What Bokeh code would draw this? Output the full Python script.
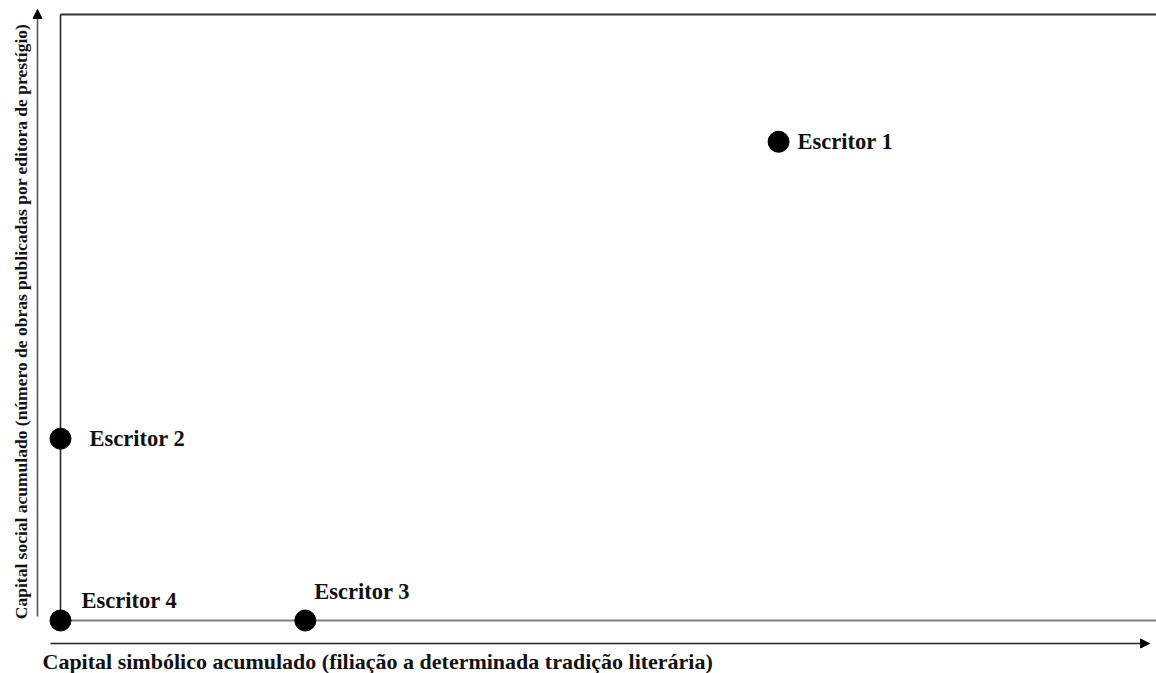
from bokeh.plotting import figure
from bokeh.models import Range1d, ColumnDataSource, Arrow, NormalHead, Label
from bokeh.core.properties import value
from bokeh.embed import file_html
from bokeh.resources import INLINE
import math

# ---- data ----
names = ["Escritor 1", "Escritor 2", "Escritor 3", "Escritor 4"]
capital_simbolico = [6.6, 0.0, 2.25, 0.0]
capital_social = [7.9, 3.0, 0.0, 0.0]
x_title = "Capital simbólico acumulado (filiação a determinada tradição literária)"
y_title = "Capital social acumulado (número de obras publicadas por editora de prestígio)"

# ---- layout (styles / positions) ----
label_dx = [19, 29, 9, 21]
label_dy = [0, 0, -29, -20]

W, H = 1156, 673
# box: data 0..10 on both axes; pixel scale
SX = 108.8   # px per unit x
SY = 60.6    # px per unit y

def dx(img_x):
    return (img_x - 60) / SX

def dy(img_y):
    return (620 - img_y) / SY

FONT = "Liberation Serif"

p = figure(width=W, height=H, x_range=Range1d(dx(0), dx(W)), y_range=Range1d(dy(H), dy(0)),
           output_backend="svg", toolbar_location=None, min_border=0,
           x_axis_location=None, y_axis_location=None)
p.grid.visible = False
p.outline_line_color = None
p.background_fill_color = "white"
p.border_fill_color = "white"

# box lines
p.line([0, 0], [dy(626), 10], line_color="#2a2a2a", line_width=1.6)
p.line([0, 10.3], [10, 10], line_color="#333333", line_width=2)
p.line([0, 10.3], [0, 0], line_color="#808080", line_width=2)

# arrows (axes)
p.add_layout(Arrow(end=NormalHead(size=9, fill_color="black", line_color="black"),
                   x_start=dx(37), y_start=dy(616), x_end=dx(37), y_end=dy(9),
                   line_color="#555555", line_width=1.6))
p.add_layout(Arrow(end=NormalHead(size=9, fill_color="black", line_color="black"),
                   x_start=dx(50), y_start=dy(643), x_end=dx(1149), y_end=dy(643),
                   line_color="#222222", line_width=1.6))

src = ColumnDataSource(dict(x=capital_simbolico, y=capital_social, name=names,
                            xo=label_dx, yo=label_dy))
p.scatter("x", "y", source=src, size=21, fill_color="black", line_color="black")
p.text("x", "y", text="name", source=src, x_offset="xo", y_offset="yo",
       text_font=value(FONT), text_font_style="bold", text_font_size="22.5px",
       text_baseline="middle", text_align="left", text_color="#111111")

p.add_layout(Label(x=dx(42), y=dy(661), text=x_title, text_font=FONT,
                   text_font_style="bold", text_font_size="22px",
                   text_baseline="middle", text_align="left", text_color="#111111"))
p.add_layout(Label(x=dx(20), y=dy(321), text=y_title, text_font=FONT,
                   text_font_style="bold", text_font_size="17.5px", angle=math.pi / 2,
                   text_baseline="middle", text_align="center", text_color="#111111"))

open("out.html", "w").write(file_html(p, INLINE))
